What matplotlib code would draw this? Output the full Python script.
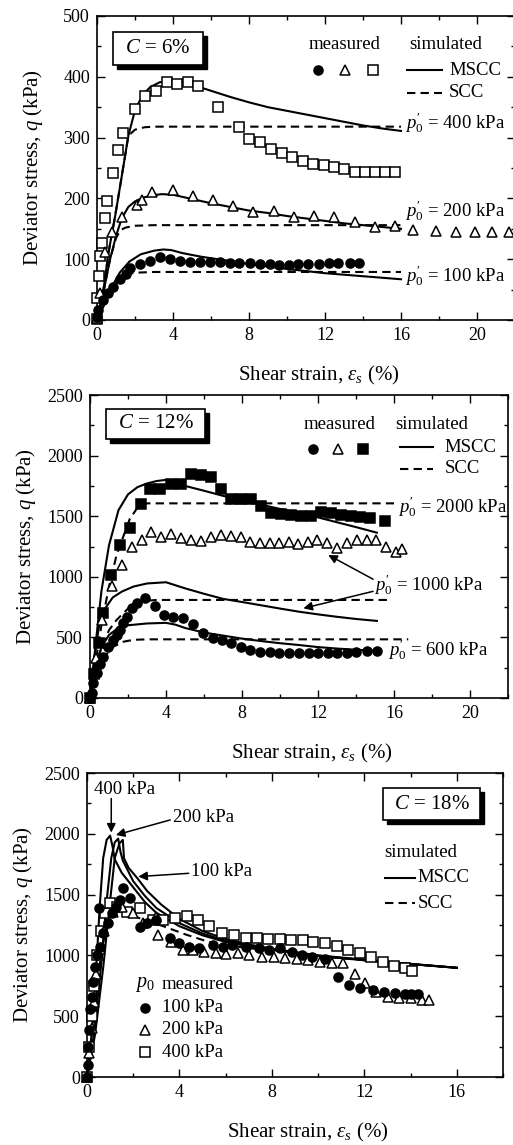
import matplotlib
matplotlib.use('Agg')
import matplotlib.pyplot as plt
from matplotlib.patches import Rectangle
from matplotlib.ticker import MultipleLocator

plt.rcParams['font.family'] = ['Liberation Serif', 'DejaVu Serif']
plt.rcParams['mathtext.fontset'] = 'custom'
plt.rcParams['mathtext.rm'] = 'Liberation Serif'
plt.rcParams['mathtext.it'] = 'Liberation Serif:italic'

# ---------------- C = 6% ----------------
c6_sq_x = [0, 0.02, 0.1, 0.18, 0.25, 0.42, 0.51, 0.86, 1.12, 1.39, 2.0, 2.53, 3.1, 3.67, 4.19, 4.77, 5.3,
           6.39, 7.49, 8.02, 8.58, 9.14, 9.72, 10.28, 10.82, 11.39, 11.93, 12.46, 13.02, 13.58, 14.1,
           14.65, 15.18, 15.7]
c6_sq_q = [2, 36, 73, 105, 126, 167, 195, 242, 280, 308, 347, 368, 377, 392, 388, 391, 385,
           350, 318, 298, 292, 281, 274, 268, 262, 257, 255, 252, 248, 244, 244, 244, 244, 244]
c6_tri_x = [0, 0.15, 0.42, 0.77, 1.3, 2.09, 2.35, 2.91, 3.98, 5.03, 6.09, 7.14, 8.23, 9.32, 10.37,
            11.42, 12.47, 13.58, 14.63, 15.68, 16.65, 17.84, 18.9, 19.9, 20.8, 21.7]
c6_tri_q = [3, 45, 112, 145, 170, 189, 197, 211, 213, 204, 197, 188, 178, 180, 169, 171, 169, 162,
            153, 155, 148, 147, 145, 145, 145, 144]
c6_ci_x = [0, 0.07, 0.33, 0.6, 0.86, 1.21, 1.5, 1.74, 2.26, 2.79, 3.32, 3.84, 4.37, 4.9, 5.4, 5.95,
           6.47, 7.0, 7.5, 8.05, 8.6, 9.1, 9.6, 10.1, 10.6, 11.1, 11.7, 12.2, 12.7, 13.3, 13.8]
c6_ci_q = [5, 16, 33, 44, 55, 68, 76, 85, 92, 97, 103, 100, 97, 96, 96, 95, 95, 94, 93, 93, 92, 92,
           91, 91, 92, 92, 92, 93, 93, 94, 94]

c6_mscc400_x = [0, 0.3, 0.6, 0.95, 1.3, 1.65, 2.0, 2.4, 2.8, 3.3, 3.8, 4.2, 5, 6, 7, 8, 9, 10, 11, 12,
                13, 14, 15, 16]
c6_mscc400_q = [0, 40, 110, 170, 236, 303, 345, 370, 383, 391, 394, 394, 387, 377, 367, 358, 350,
                344, 338, 332, 326, 320, 315, 311]
c6_scc400_x = [0, 0.3, 0.6, 0.95, 1.3, 1.65, 2.0, 2.5, 3.0, 16]
c6_scc400_q = [0, 40, 110, 170, 236, 303, 313, 317, 318, 318]
c6_mscc200_x = [0, 0.3, 0.68, 1.0, 1.3, 1.65, 2.0, 2.4, 2.9, 3.4, 4, 5, 6, 7, 8, 9, 10, 11, 12, 13,
                14, 15, 16]
c6_mscc200_q = [0, 40, 99, 138, 167, 186, 195, 201, 205, 207, 206, 199, 192, 186, 180, 176, 171,
                167, 163, 159, 156, 153, 150]
c6_scc200_x = [0, 0.3, 0.68, 1.0, 1.25, 1.5, 2.0, 3.0, 16]
c6_scc200_q = [0, 40, 99, 135, 148, 152, 155, 156, 156]
c6_mscc100_x = [0, 0.3, 0.7, 1.2, 1.7, 2.3, 3.0, 3.5, 3.9, 4.5, 5.5, 7, 8, 10, 12, 14, 16]
c6_mscc100_q = [0, 20, 50, 78, 96, 108, 114, 116, 115, 110, 104, 97, 92, 84, 77, 72, 67]
c6_scc100_x = [0, 0.3, 0.7, 1.2, 1.6, 2.2, 3.0, 16]
c6_scc100_q = [0, 20, 48, 68, 76, 78, 79, 79]

# ---------------- C = 12% ----------------
c12_sq_x = [0, 0.2, 0.45, 0.7, 1.09, 1.58, 2.1, 2.67, 3.16, 3.68, 4.25, 4.77, 5.3, 5.84, 6.35, 6.88,
            7.42, 7.93, 8.46, 8.98, 9.51, 10.04, 10.56, 11.09, 11.61, 12.14, 12.67, 13.19, 13.72,
            14.21, 14.74, 15.53]
c12_sq_q = [0, 200, 450, 700, 1015, 1262, 1400, 1600, 1722, 1722, 1766, 1766, 1848, 1837, 1826,
            1722, 1639, 1639, 1639, 1587, 1529, 1518, 1510, 1504, 1504, 1537, 1524, 1510, 1504,
            1496, 1482, 1463]
c12_tri_x = [0, 0.3, 0.62, 1.14, 1.67, 2.19, 2.72, 3.21, 3.74, 4.26, 4.79, 5.32, 5.84, 6.37, 6.89,
             7.42, 7.95, 8.42, 8.95, 9.47, 9.96, 10.47, 10.96, 11.45, 11.96, 12.49, 13.02, 13.51,
             14.04, 14.56, 15.05, 15.56, 16.09, 16.4]
c12_tri_q = [0, 330, 640, 924, 1097, 1248, 1304, 1372, 1326, 1351, 1323, 1304, 1295, 1326, 1345,
             1337, 1326, 1290, 1282, 1282, 1276, 1290, 1268, 1285, 1304, 1280, 1240, 1276, 1300,
             1304, 1307, 1250, 1207, 1227]
c12_ci_x = [0, 0.08, 0.18, 0.35, 0.5, 0.7, 0.96, 1.2, 1.4, 1.58, 1.75, 1.93, 2.19, 2.46, 2.89, 3.42,
            3.89, 4.39, 4.91, 5.4, 5.93, 6.46, 6.93, 7.42, 7.95, 8.42, 8.95, 9.47, 9.96, 10.47, 11.0,
            11.5, 12.0, 12.5, 13.0, 13.5, 14.0, 14.6, 15.1]
c12_ci_q = [0, 38, 121, 204, 280, 341, 423, 480, 520, 561, 616, 671, 740, 781, 822, 759, 685, 671,
            657, 610, 539, 492, 478, 451, 423, 396, 382, 379, 374, 369, 372, 370, 372, 372, 370,
            375, 380, 385, 390]

c12_mscc2000_x = [0, 0.3, 0.6, 1.0, 1.5, 2.0, 2.5, 3.0, 3.5, 4.0, 4.5, 5, 6, 7, 8, 9, 10, 11, 12,
                  13, 14, 15.1]
c12_mscc2000_q = [0, 450, 880, 1260, 1550, 1680, 1740, 1770, 1790, 1800, 1780, 1750, 1710, 1668,
                  1630, 1595, 1560, 1525, 1490, 1450, 1410, 1364]
c12_scc2000_x = [0, 0.3, 0.6, 1.0, 1.4, 1.75, 2.1, 2.5, 3.0, 16.0]
c12_scc2000_q = [0, 300, 600, 920, 1180, 1331, 1480, 1570, 1606, 1606]
c12_mscc1000_x = [0, 0.25, 0.5, 0.8, 1.2, 1.7, 2.3, 3.0, 4.0, 5, 6, 7, 8, 9, 10, 11, 12, 13, 14, 15.1]
c12_mscc1000_q = [0, 350, 620, 740, 830, 880, 920, 945, 955, 905, 860, 818, 792, 765, 738, 712,
                  690, 670, 652, 636]
c12_scc1000_x = [0, 0.3, 0.5, 1.0, 1.4, 2.1, 2.8, 3.5, 15.8]
c12_scc1000_q = [0, 250, 370, 560, 644, 753, 800, 809, 809]
c12_mscc600_x = [0, 0.3, 0.6, 1.0, 1.5, 2.0, 3.0, 4.0, 4.5, 5, 6, 7, 8, 9, 10, 11, 12, 13, 14, 15.1]
c12_mscc600_q = [0, 250, 420, 520, 580, 600, 615, 620, 605, 578, 540, 515, 490, 470, 452, 437,
                 420, 408, 398, 390]
c12_scc600_x = [0, 0.3, 0.6, 1.0, 1.23, 1.75, 2.28, 3.0, 16.75]
c12_scc600_q = [0, 150, 290, 390, 423, 464, 480, 484, 484]

# ---------------- C = 18% ----------------
c18_ci_x = [0, 0.03, 0.06, 0.1, 0.14, 0.2, 0.28, 0.36, 0.45, 0.5, 0.57, 0.71, 0.93, 1.07, 1.25,
            1.43, 1.57, 1.86, 2.29, 2.58, 3.0, 3.58, 4.0, 4.43, 4.86, 5.44, 5.87, 6.29, 6.87, 7.44,
            7.87, 8.37, 8.87, 9.3, 9.73, 10.3, 10.88, 11.33, 11.8, 12.38, 12.85, 13.31, 13.74,
            14.0, 14.31]
c18_ci_q = [0, 100, 250, 385, 560, 660, 780, 906, 1000, 1390, 1071, 1181, 1264, 1346, 1400, 1456,
            1552, 1470, 1236, 1264, 1291, 1140, 1099, 1071, 1058, 1085, 1071, 1085, 1071, 1058,
            1044, 1058, 1030, 1003, 989, 970, 819, 755, 736, 714, 700, 687, 681, 681, 681]
c18_tri_x = [0, 0.1, 0.2, 0.3, 0.4, 0.55, 0.75, 1.14, 1.5, 2.0, 2.43, 3.0, 3.08, 3.65, 4.15, 4.58,
             5.08, 5.58, 6.0, 6.55, 7.0, 7.58, 8.08, 8.55, 9.08, 9.58, 10.08, 10.59, 11.09, 11.59,
             12.05, 12.52, 13.02, 13.52, 14.02, 14.48, 14.81]
c18_tri_q = [0, 200, 400, 620, 850, 1050, 1200, 1360, 1401, 1346, 1264, 1319, 1168, 1113, 1044,
             1044, 1030, 1022, 1011, 1016, 1003, 989, 989, 975, 967, 962, 948, 934, 934, 846, 774,
             700, 659, 646, 646, 637, 637]
c18_sq_x = [0, 0.1, 0.2, 0.3, 0.45, 0.6, 0.8, 1.0, 1.29, 1.72, 2.29, 2.86, 3.29, 3.79, 4.32, 4.79,
            5.29, 5.84, 6.37, 6.87, 7.37, 7.84, 8.37, 8.84, 9.34, 9.8, 10.3, 10.8, 11.3, 11.8, 12.3,
            12.81, 13.28, 13.74, 14.05]
c18_sq_q = [0, 250, 500, 750, 1000, 1200, 1350, 1429, 1401, 1360, 1387, 1291, 1291, 1305, 1324,
            1291, 1245, 1181, 1168, 1140, 1140, 1135, 1135, 1126, 1126, 1113, 1104, 1077, 1044,
            1016, 989, 942, 912, 893, 873]

c18_mscc400_x = [0, 0.2, 0.4, 0.55, 0.7, 0.85, 1.0, 1.1, 1.2, 1.5, 2.0, 2.5, 3, 4, 5, 6, 7, 8, 10,
                 12, 14, 16]
c18_mscc400_q = [0, 350, 900, 1400, 1800, 1950, 1985, 1900, 1790, 1680, 1560, 1440, 1350, 1240,
                 1165, 1110, 1075, 1045, 995, 960, 928, 898]
c18_mscc200_x = [0, 0.3, 0.6, 0.85, 1.05, 1.2, 1.35, 1.45, 1.55, 2.0, 2.5, 3, 4, 5, 6, 7, 8, 10, 12,
                 14, 16]
c18_mscc200_q = [0, 350, 900, 1450, 1800, 1930, 1960, 1850, 1780, 1610, 1490, 1390, 1265, 1180,
                 1120, 1080, 1048, 998, 962, 930, 898]
c18_mscc100_x = [0, 0.35, 0.7, 1.0, 1.2, 1.4, 1.55, 1.6, 1.8, 2.2, 2.6, 3.2, 4, 5, 6, 7, 8, 10, 12,
                 14, 16]
c18_mscc100_q = [0, 350, 900, 1450, 1800, 1920, 1950, 1800, 1720, 1630, 1530, 1420, 1300, 1200,
                 1135, 1090, 1055, 1000, 965, 930, 898]
c18_scc_x = [0, 0.3, 0.6, 0.9, 1.3, 1.8, 2.5, 3.3, 4.3, 5.2, 6, 7, 8, 10, 12, 14, 16]
c18_scc_q = [0, 500, 1000, 1300, 1380, 1340, 1290, 1240, 1170, 1115, 1085, 1060, 1040, 995, 960,
             928, 898]

LW = 1.5
DASH = (0, (4, 2.5))
FS_TICK = 13
FS_LAB = 15
FS_TXT = 13.5
P0 = "$p^{\\prime}_{\\mathit{0}}$"


def style_axes(ax, xmax, ymax, ymaj, ymin):
    ax.set_xlim(0, xmax)
    ax.set_ylim(0, ymax)
    ax.xaxis.set_major_locator(MultipleLocator(4))
    ax.xaxis.set_minor_locator(MultipleLocator(2))
    ax.yaxis.set_major_locator(MultipleLocator(ymaj))
    ax.yaxis.set_minor_locator(MultipleLocator(ymin))
    ax.tick_params(which='both', direction='in', top=True, right=True, labelsize=FS_TICK, pad=5)
    ax.tick_params(which='major', length=6, width=1)
    ax.tick_params(which='minor', length=3, width=1)
    for s in ax.spines.values():
        s.set_linewidth(1.2)
    ax.set_xlabel('Shear strain, $\\varepsilon_s$ (%)', fontsize=FS_LAB, va='top')
    ax.set_ylabel('Deviator stress, $q$ (kPa)', fontsize=FS_LAB)
    ax.xaxis.set_label_coords(0.53, -0.145)
    ax.yaxis.set_label_coords(-0.125, 0.5)


def cbox(ax, x0, y0, x1, y1, text):
    dx, dy = 0.009, 0.012
    ax.add_patch(Rectangle((x0 + dx, y0 - dy), x1 - x0, y1 - y0, transform=ax.transAxes,
                           facecolor='black', edgecolor='black', zorder=6, clip_on=False))
    ax.add_patch(Rectangle((x0, y0), x1 - x0, y1 - y0, transform=ax.transAxes,
                           facecolor='white', edgecolor='black', lw=1.2, zorder=7, clip_on=False))
    ax.text((x0 + x1) / 2, (y0 + y1) / 2, text, transform=ax.transAxes, ha='center', va='center',
            fontsize=15, zorder=8)


def meas(ax, x, q, marker, filled, ms):
    ax.plot(x, q, linestyle='none', marker=marker, ms=ms, mec='black', mew=1.1,
            mfc='black' if filled else 'white', zorder=4, clip_on=False)


def sim_legend(ax, xs, ys, xt):
    ax.plot(xs, [ys[0], ys[0]], color='black', lw=LW, transform=ax.transAxes)
    ax.plot(xs, [ys[1], ys[1]], color='black', lw=LW, ls=DASH, transform=ax.transAxes)
    ax.text(xt, ys[0], 'MSCC', transform=ax.transAxes, va='center', fontsize=FS_TXT)
    ax.text(xt, ys[1], 'SCC', transform=ax.transAxes, va='center', fontsize=FS_TXT)


fig = plt.figure(figsize=(5.13, 11.45), dpi=100)
ax1 = fig.add_axes([97 / 513, 1 - 320 / 1145, 418 / 513, 304 / 1145])
ax2 = fig.add_axes([90 / 513, 1 - 698 / 1145, 418 / 513, 303 / 1145])
ax3 = fig.add_axes([87 / 513, 1 - 1077 / 1145, 416 / 513, 304 / 1145])

# ---- panel 1 ----
ax = ax1
style_axes(ax, 22, 500, 100, 50)
for x, q in [(c6_mscc400_x, c6_mscc400_q), (c6_mscc200_x, c6_mscc200_q), (c6_mscc100_x, c6_mscc100_q)]:
    ax.plot(x, q, color='black', lw=LW, zorder=2)
for x, q in [(c6_scc400_x, c6_scc400_q), (c6_scc200_x, c6_scc200_q), (c6_scc100_x, c6_scc100_q)]:
    ax.plot(x, q, color='black', lw=LW, ls=DASH, zorder=2)
meas(ax, c6_sq_x, c6_sq_q, 's', False, 7)
meas(ax, c6_tri_x, c6_tri_q, '^', False, 7.5)
meas(ax, c6_ci_x, c6_ci_q, 'o', True, 6.5)
cbox(ax, 0.038, 0.839, 0.254, 0.947, '$C$ = 6%')
ax.text(0.593, 0.905, 'measured', transform=ax.transAxes, ha='center', va='center', fontsize=FS_TXT)
ax.text(0.833, 0.905, 'simulated', transform=ax.transAxes, ha='center', va='center', fontsize=FS_TXT)
for xm, mk, f in [(0.529, 'o', True), (0.593, '^', False), (0.660, 's', False)]:
    ax.plot([xm], [0.822], marker=mk, ms=6.5, mec='black', mew=1.1, mfc='black' if f else 'white',
            transform=ax.transAxes, linestyle='none')
sim_legend(ax, [0.742, 0.825], [0.822, 0.747], 0.842)
ax.text(16.2, 325, P0 + ' = 400 kPa', va='center', fontsize=FS_TXT)
ax.text(16.2, 180, P0 + ' = 200 kPa', va='center', fontsize=FS_TXT)
ax.text(16.2, 72, P0 + ' = 100 kPa', va='center', fontsize=FS_TXT)

# ---- panel 2 ----
ax = ax2
style_axes(ax, 22, 2500, 500, 250)
for x, q in [(c12_mscc2000_x, c12_mscc2000_q), (c12_mscc1000_x, c12_mscc1000_q), (c12_mscc600_x, c12_mscc600_q)]:
    ax.plot(x, q, color='black', lw=LW, zorder=2)
for x, q in [(c12_scc2000_x, c12_scc2000_q), (c12_scc1000_x, c12_scc1000_q), (c12_scc600_x, c12_scc600_q)]:
    ax.plot(x, q, color='black', lw=LW, ls=DASH, zorder=2)
meas(ax, c12_sq_x, c12_sq_q, 's', True, 6.5)
meas(ax, c12_tri_x, c12_tri_q, '^', False, 7.5)
meas(ax, c12_ci_x, c12_ci_q, 'o', True, 6.5)
cbox(ax, 0.038, 0.855, 0.275, 0.954, '$C$ = 12%')
ax.text(0.596, 0.904, 'measured', transform=ax.transAxes, ha='center', va='center', fontsize=FS_TXT)
ax.text(0.818, 0.904, 'simulated', transform=ax.transAxes, ha='center', va='center', fontsize=FS_TXT)
for xm, mk, f in [(0.533, 'o', True), (0.593, '^', False), (0.653, 's', True)]:
    ax.plot([xm], [0.822], marker=mk, ms=6.5, mec='black', mew=1.1, mfc='black' if f else 'white',
            transform=ax.transAxes, linestyle='none')
sim_legend(ax, [0.742, 0.821], [0.828, 0.756], 0.849)
ax.text(16.2, 1575, P0 + ' = 2000 kPa', va='center', fontsize=FS_TXT)
ax.text(14.95, 932, P0 + ' = 1000 kPa', va='center', fontsize=FS_TXT)
ax.text(15.7, 396, P0 + ' = 600 kPa', va='center', fontsize=FS_TXT)
arrow = dict(arrowstyle='-|>', color='black', lw=1.1, mutation_scale=13, shrinkA=0, shrinkB=0)
ax.annotate('', xy=(12.54, 1180), xytext=(14.9, 980), arrowprops=arrow)
ax.annotate('', xy=(11.23, 740), xytext=(14.9, 880), arrowprops=arrow)

# ---- panel 3 ----
ax = ax3
style_axes(ax, 18, 2500, 500, 250)
for x, q in [(c18_mscc400_x, c18_mscc400_q), (c18_mscc200_x, c18_mscc200_q), (c18_mscc100_x, c18_mscc100_q)]:
    ax.plot(x, q, color='black', lw=LW, zorder=2)
ax.plot(c18_scc_x, c18_scc_q, color='black', lw=LW, ls=DASH, zorder=2)
meas(ax, c18_sq_x, c18_sq_q, 's', False, 6.5)
meas(ax, c18_tri_x, c18_tri_q, '^', False, 7)
meas(ax, c18_ci_x, c18_ci_q, 'o', True, 6.5)
cbox(ax, 0.712, 0.845, 0.945, 0.951, '$C$ = 18%')
ax.text(0.803, 0.740, 'simulated', transform=ax.transAxes, ha='center', va='center', fontsize=FS_TXT)
sim_legend(ax, [0.716, 0.788], [0.655, 0.572], 0.795)
ax.text(0.115, 0.303, '$p_{\\mathit{0}}$', transform=ax.transAxes, va='center', fontsize=FS_TXT + 1)
ax.text(0.18, 0.303, 'measured', transform=ax.transAxes, va='center', fontsize=FS_TXT)
for ym, mk, f, lab in [(0.227, 'o', True, '100 kPa'), (0.155, '^', False, '200 kPa'),
                       (0.082, 's', False, '400 kPa')]:
    ax.plot([0.139], [ym], marker=mk, ms=6.5, mec='black', mew=1.1, mfc='black' if f else 'white',
            transform=ax.transAxes, linestyle='none')
    ax.text(0.18, ym, lab, transform=ax.transAxes, va='center', fontsize=FS_TXT)
ax.text(1.64, 2362, '400 kPa', ha='center', va='center', fontsize=FS_TXT)
ax.annotate('', xy=(1.05, 2010), xytext=(1.05, 2290), arrowprops=arrow)
ax.text(3.71, 2131, '200 kPa', va='center', fontsize=FS_TXT)
ax.annotate('', xy=(1.25, 1990), xytext=(3.6, 2114), arrowprops=arrow)
ax.text(4.51, 1689, '100 kPa', va='center', fontsize=FS_TXT)
ax.annotate('', xy=(2.22, 1648), xytext=(4.4, 1675), arrowprops=arrow)

fig.savefig('out.png', dpi=100)
